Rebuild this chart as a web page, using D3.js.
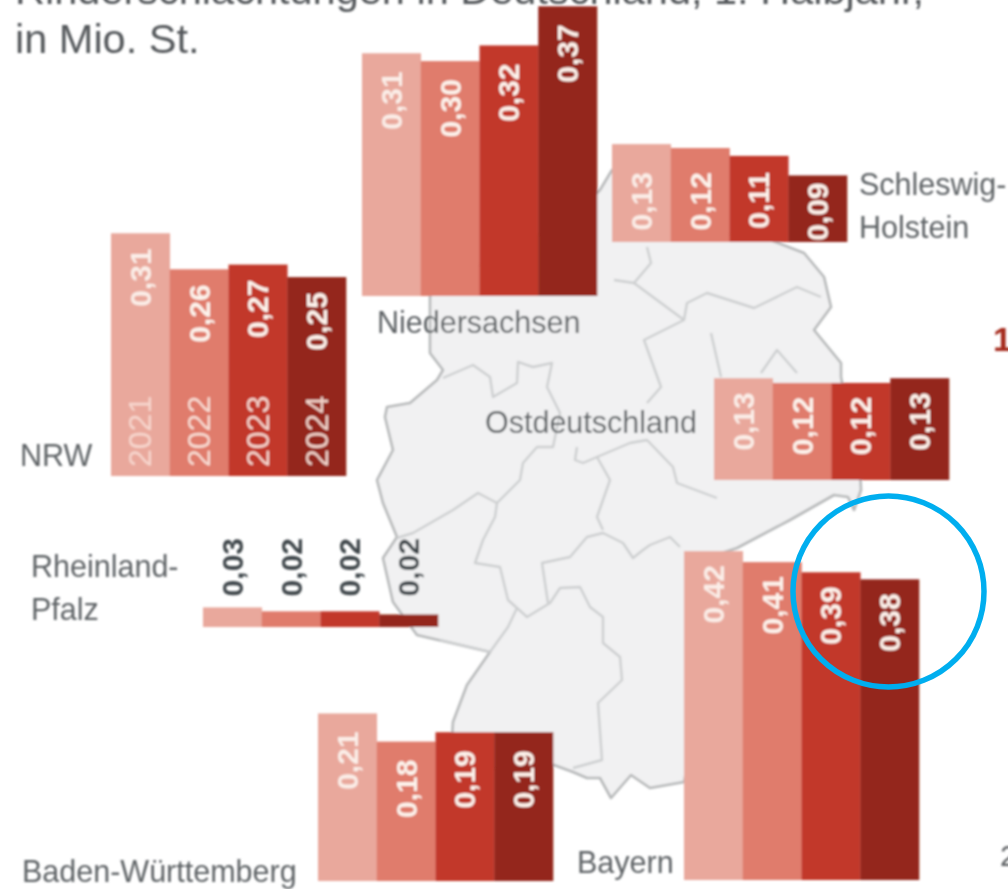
<!DOCTYPE html>
<html lang="de">
<head>
<meta charset="utf-8">
<title>Rinderschlachtungen in Deutschland</title>
<script src="https://cdn.jsdelivr.net/npm/d3@7"></script>
<style>
html,body{margin:0;padding:0;background:#fff;overflow:hidden}
svg{display:block;font-family:"Liberation Sans",Arial,sans-serif}
</style>
</head>
<body>
<svg id="chart" width="1008" height="889"></svg>
<script>
// ---- data (in Mio. St.) ----
const years = ["2021", "2022", "2023", "2024"];
const nrw = [0.31, 0.264, 0.27, 0.254];
const niedersachsen = [0.31, 0.30, 0.32, 0.37];
const schleswigHolstein = [0.125, 0.12, 0.11, 0.085];
const ostdeutschland = [0.13, 0.124, 0.124, 0.13];
const rheinlandPfalz = [0.025, 0.02, 0.02, 0.016];
const badenWuerttemberg = [0.214, 0.178, 0.19, 0.19];
const bayern = [0.42, 0.406, 0.393, 0.384];
const titleLines = ["Rinderschlachtungen in Deutschland, 1. Halbjahr,", "in Mio. St."];
const barColors = ["#e9a89c", "#e07c6c", "#c23729", "#94281b"];

// ---- layout ----
const pxPerUnit = 783, panelWidth = 235;
const panels = [
  {values: nrw, left: 111, base: 476, gap: 15, years: true},
  {values: niedersachsen, left: 362, base: 296, gap: 18},
  {values: schleswigHolstein, left: 612, base: 242, gap: 7, minLabelY: 172},
  {values: ostdeutschland, left: 714, base: 480, gap: 14},
  {values: rheinlandPfalz, left: 203, base: 627, above: true},
  {values: badenWuerttemberg, left: 318, base: 881, gap: 18},
  {values: bayern, left: 684, base: 880, gap: 14}
];
const regionLabels = [
  ["Niedersachsen", 377, 333], ["Ostdeutschland", 485, 433], ["NRW", 20, 466],
  ["Rheinland-", 31, 577], ["Pfalz", 31, 620], ["Baden-Württemberg", 22, 882],
  ["Bayern", 577, 873], ["Schleswig-", 859, 195], ["Holstein", 859, 238]
];

// background map of Germany (traced decoration, not data)
const mapOutline = [[430,353],[443,370],[437,380],[410,403],[387,407],[385,417],[393,450],[377,480],[383,503],[397,537],[383,558],[393,602],[417,635],[447,642],[490,652],[467,685],[453,722],[450,770],[554,765],[573,772],[587,778],[600,778],[611,798],[631,775],[650,788],[684,782],[700,700],[700,560],[737,548],[790,520],[834,495],[848,497],[854,510],[861,490],[860,470],[841,377],[841,363],[814,330],[831,307],[824,277],[804,253],[770,240],[700,230],[640,150],[612,170],[600,190],[560,230],[520,240],[430,296]];
const mapBorders = [
  [[443,378],[473,365],[490,377],[493,397],[517,383],[518,362],[533,367],[552,363],[547,387],[560,413],[553,447],[537,447],[523,463],[520,480],[497,503],[478,493],[453,510],[413,533],[397,538]],
  [[497,503],[495,517],[483,540],[475,563],[500,567],[508,600],[517,608],[508,627],[490,652]],
  [[440,640],[490,652]],
  [[517,608],[527,617],[550,603],[560,588],[580,587],[590,607],[603,617],[603,643],[620,657],[622,680],[598,703],[602,760],[573,768]],
  [[548,603],[542,563],[570,557],[587,537],[603,533],[623,543],[633,558],[643,550],[650,545],[670,537],[680,547]],
  [[577,447],[575,460],[583,463],[597,457],[610,480],[597,517],[603,530]],
  [[597,457],[630,443],[647,440],[673,467],[677,483],[717,498]],
  [[647,247],[651,263],[634,283],[614,280]],
  [[634,283],[684,320],[644,340],[661,387],[647,403]],
  [[684,320],[687,303],[707,293],[754,308],[797,287],[821,297]],
  [[711,333],[721,377]],
  [[761,373],[777,350],[797,373]]
];

// ---- drawing ----
const svg = d3.select("#chart");
const defs = svg.append("defs");
defs.append("filter").attr("id", "soft").attr("x", "-5%").attr("y", "-5%").attr("width", "110%").attr("height", "110%")
  .append("feGaussianBlur").attr("stdDeviation", 1.1);

const root = svg.append("g").attr("filter", "url(#soft)");
const line = d3.line();

const map = root.append("g");
map.append("path").attr("d", line(mapOutline) + "Z")
  .attr("fill", "#f1f1f2").attr("stroke", "#b7b9ba").attr("stroke-width", 2.6).attr("stroke-linejoin", "round");
map.selectAll("path.border").data(mapBorders).join("path").attr("class", "border")
  .attr("d", line).attr("fill", "none").attr("stroke", "#cdcfd0").attr("stroke-width", 2.4).attr("stroke-linejoin", "round");

root.selectAll("text.title").data(titleLines).join("text").attr("class", "title")
  .attr("x", 15).attr("y", (d, i) => 4 + i * 49)
  .attr("font-size", 41.5).attr("fill", "#55595c").text(d => d);

const fmt = d3.format(".2f");
const label = v => fmt(v).replace(".", ",");

panels.forEach(p => {
  const x = d3.scaleBand().domain(years).range([p.left, p.left + panelWidth]);
  const y = d3.scaleLinear().domain([0, 0.5]).range([p.base, p.base - 0.5 * pxPerUnit]);
  const rows = years.map((yr, i) => ({yr, i, v: p.values[i]}));
  const g = root.append("g");

  g.selectAll("rect").data(rows).join("rect")
    .attr("x", d => x(d.yr)).attr("width", x.bandwidth() + 0.3)
    .attr("y", d => y(d.v)).attr("height", d => y(0) - y(d.v))
    .attr("fill", d => barColors[d.i]);

  const labelY = d => {
    if (p.above) return 538;
    return Math.max(y(d.v) + p.gap, p.minLabelY || 0);
  };
  g.selectAll("text.val").data(rows).join("text").attr("class", "val")
    .attr("transform", d => `translate(${x(d.yr) + x.bandwidth() / 2},${labelY(d)}) rotate(-90)`)
    .attr("text-anchor", "end").attr("dominant-baseline", "central")
    .attr("font-size", 30).attr("font-weight", "bold")
    .attr("fill", p.above ? "#3f474b" : d => d.i === 0 ? "#fbeee8" : "#fdf3ec")
    .text(d => label(d.v));

  if (p.years) {
    g.selectAll("text.yr").data(rows).join("text").attr("class", "yr")
      .attr("transform", d => `translate(${x(d.yr) + x.bandwidth() / 2},${p.base - 9}) rotate(-90)`)
      .attr("dominant-baseline", "central").attr("font-size", 32)
      .attr("fill", "#fbe6de").attr("fill-opacity", d => d.i === 0 ? 0.75 : 0.9)
      .text(d => d.yr);
  }
});

root.selectAll("text.region").data(regionLabels).join("text").attr("class", "region")
  .attr("x", d => d[1]).attr("y", d => d[2])
  .attr("font-size", 30.5).attr("fill", "#5f6366").text(d => d[0]);

// fragments of the neighbouring graphic, cut by the right edge
root.append("text").attr("x", 993).attr("y", 351).attr("font-size", 34).attr("font-weight", "bold").attr("fill", "#a52a1c").text("1");
root.append("text").attr("x", 1000).attr("y", 866).attr("font-size", 30).attr("fill", "#5b5f62").text("2");

// highlight ring
svg.append("circle").attr("cx", 888.5).attr("cy", 591.5).attr("r", 95.5)
  .attr("fill", "none").attr("stroke", "#00aeef").attr("stroke-width", 5.5);
</script>
</body>
</html>
